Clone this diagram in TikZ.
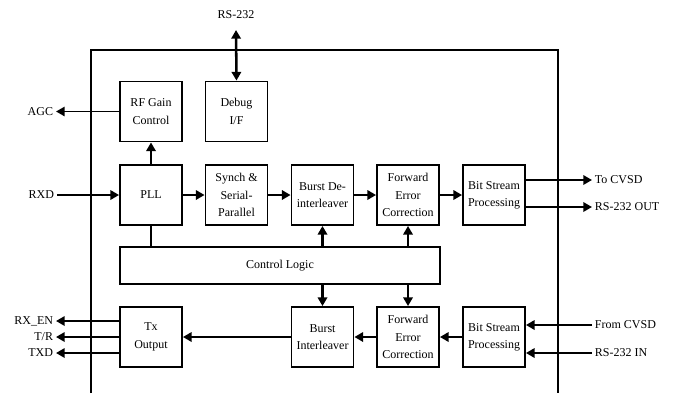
\documentclass[tikz,border=0pt]{standalone}
\usepackage{fontspec}
\setmainfont{Liberation Serif}
\usetikzlibrary{arrows.meta}

\tikzset{
  blk/.style={draw, line width=1.4pt, minimum width=46.5pt, minimum height=45pt,
    align=center, inner sep=1pt},
  flow/.style={line width=1.9pt, -{Triangle[length=6.5pt,width=7pt]}},
  dflow/.style={line width=1.9pt, {Triangle[length=6.5pt,width=7pt]}-{Triangle[length=6.5pt,width=7pt]}},
  sig/.style={inner sep=2pt},
}

\begin{document}
\begin{tikzpicture}[x=0.75pt, y=-0.75pt, font=\fontsize{9}{13}\selectfont]
      \useasboundingbox (0,0) rectangle (674,393);
      % chip outline, open at the bottom
      \draw[line width=1.5pt] (91,393) |- (558,50) -- (558,393);

      % top row
      \node[blk] (rfgain) at (151,111.5) {RF Gain\\Control};
      \node[blk] (debug) at (236.5,111.5) {Debug\\I/F};

      % receive chain
      \node[blk] (pll) at (151,195) {PLL};
      \node[blk] (synch) at (236.5,195) {Synch \&\\Serial-\\Parallel};
      \node[blk] (deint) at (322.5,195) {Burst De-\\interleaver};
      \node[blk] (fecrx) at (408,195) {Forward\\Error\\Correction};
      \node[blk] (bsprx) at (494,195) {Bit Stream\\Processing};

      \node[draw, line width=1.4pt, minimum width=240pt, minimum height=27.75pt] (ctrl) at (280,265.5) {Control Logic};

      % transmit chain
      \node[blk] (txout) at (151,337) {Tx\\Output};
      \node[blk] (inter) at (322.5,337) {Burst\\Interleaver};
      \node[blk] (fectx) at (408,337) {Forward\\Error\\Correction};
      \node[blk] (bsptx) at (494,337) {Bit Stream\\Processing};

      % outside signals
      \node[sig] (rs) at (236,15) {RS-232};
      \coordinate (rsend) at (236,30);
      \node[sig, anchor=east] (agc) at (56,111.5) {AGC};
      \node[sig, anchor=east] (rxd) at (57,195) {RXD};
      \node[sig, anchor=east] (rxen) at (56,321) {RX\_EN};
      \node[sig, anchor=east] (tr) at (56,337) {T/R};
      \node[sig, anchor=east] (txd) at (56,353) {TXD};
      \node[sig, anchor=west] (tocvsd) at (592,180) {To CVSD};
      \node[sig, anchor=west] (rsout) at (592,207) {RS-232 OUT};
      \node[sig, anchor=west] (fromcvsd) at (592,325) {From CVSD};
      \node[sig, anchor=west] (rsin) at (592,353) {RS-232 IN};

      \draw[dflow] (rsend) -- (debug.north);
      \draw[flow, line width=1.3pt] (rfgain.west) -- (agc.east);
      \draw[flow] (pll.north) -- (rfgain.south);
      \draw[flow] (rxd.east) -- (pll.west);
      \draw[flow] (pll.east) -- (synch.west);
      \draw[flow] (synch.east) -- (deint.west);
      \draw[flow] (deint.east) -- (fecrx.west);
      \draw[flow] (fecrx.east) -- (bsprx.west);
      \draw[flow] (bsprx.east |- tocvsd) -- (tocvsd.west);
      \draw[flow] (bsprx.east |- rsout) -- (rsout.west);

      \draw[line width=1.9pt] (pll.south) -- (pll.south |- ctrl.north);
      \draw[flow] (ctrl.north -| deint) -- (deint.south);
      \draw[flow] (ctrl.north -| fecrx) -- (fecrx.south);
      \draw[flow] (ctrl.south -| inter) -- (inter.north);
      \draw[flow] (ctrl.south -| fectx) -- (fectx.north);

      \draw[flow] (fromcvsd.west) -- (bsptx.east |- fromcvsd);
      \draw[flow] (rsin.west) -- (bsptx.east |- rsin);
      \draw[flow] (bsptx.west) -- (fectx.east);
      \draw[flow] (fectx.west) -- (inter.east);
      \draw[flow] (inter.west) -- (txout.east);
      \draw[flow] (txout.west |- rxen) -- (rxen.east);
      \draw[flow] (txout.west |- tr) -- (tr.east);
      \draw[flow] (txout.west |- txd) -- (txd.east);
    \end{tikzpicture}
\end{document}
